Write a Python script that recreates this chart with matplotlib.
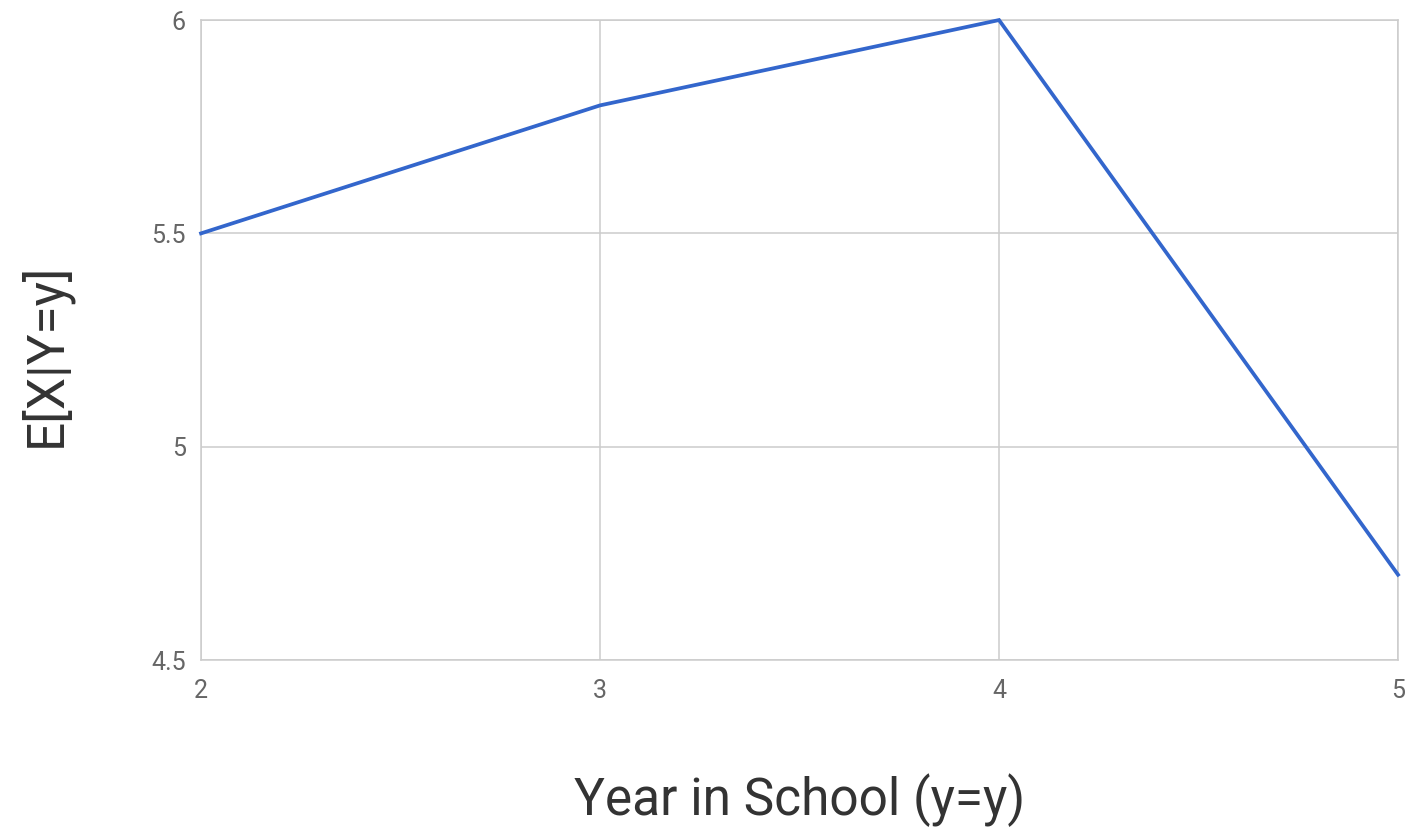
import matplotlib.pyplot as plt

# mean of X for each year in school
years = [2, 3, 4, 5]
mean_x = [5.5, 5.8, 6.0, 4.7]
x_ticks = [2, 3, 4, 5]
y_ticks = [4.5, 5, 5.5, 6]
y_tick_labels = ['4.5', '5', '5.5', '6']

plt.rcParams['font.family'] = ['Roboto', 'DejaVu Sans']

fig = plt.figure(figsize=(14.09, 8.32), dpi=100)
ax = fig.add_axes([0.1427, 0.2067, 0.8495, 0.7692])

ax.plot(years, mean_x, color='#3366CC', linewidth=2.7, solid_joinstyle='miter', zorder=3, clip_on=False)

ax.set_xlim(2, 5)
ax.set_ylim(4.5, 6)
ax.set_xticks(x_ticks)
ax.set_yticks(y_ticks)
ax.set_yticklabels(y_tick_labels)
ax.grid(True, color='#cccccc', linewidth=1.1)
for s in ax.spines.values():
    s.set_color('#cccccc')
    s.set_linewidth(1.1)
ax.tick_params(length=0, labelsize=18, colors='#666666')
ax.tick_params(axis='x', pad=14)
ax.tick_params(axis='y', pad=11)

ax.set_xlabel('Year in School (y=y)', fontsize=37, color='#333333', va='center')
ax.set_ylabel('E[X|Y=y]', fontsize=37, color='#333333', va='center')
ax.xaxis.set_label_coords(0.5, -0.219)
ax.yaxis.set_label_coords(-0.13, 0.477)

fig.savefig('out.png', dpi=100, facecolor='white')
